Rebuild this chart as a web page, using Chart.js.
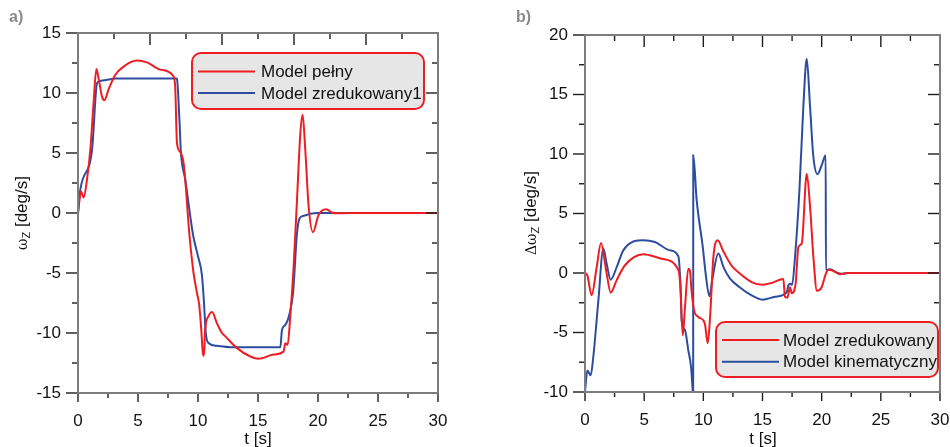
<!DOCTYPE html>
<html>
<head>
<meta charset="utf-8">
<script src="https://cdn.jsdelivr.net/npm/chart.js@4/dist/chart.umd.min.js"></script>
<style>
  html, body { margin: 0; padding: 0; background: #fff; }
  #wrap { position: relative; width: 950px; height: 447px; overflow: hidden; font-family: "Liberation Sans", Arial, sans-serif; }
  canvas { position: absolute; top: 0; }
  .panel { position: absolute; top: 8px; font-size: 16px; font-weight: bold; color: #8a8a8a; }
  .xtitle { position: absolute; top: 429px; width: 100px; text-align: center; font-size: 17px; color: #111; }
  .ytitle { position: absolute; top: 203px; width: 120px; height: 20px; line-height: 20px; text-align: center;
            font-size: 17px; color: #111; transform: rotate(-90deg); white-space: nowrap; }
  .ytitle .om { font-family: "DejaVu Serif", serif; font-size: 14px; }
  .ytitle sub { font-size: 11px; vertical-align: -3px; }
</style>
</head>
<body>
<div id="wrap">
  <canvas id="chartA" width="475" height="447" style="left:0"></canvas>
  <canvas id="chartB" width="475" height="447" style="left:475px"></canvas>
  <div class="panel" style="left:9px">a)</div>
  <div class="panel" style="left:516px">b)</div>
  <div class="xtitle" style="left:208px">t [s]</div>
  <div class="xtitle" style="left:713px">t [s]</div>
  <div class="ytitle" style="left:-38px"><span class="om">ω</span><sub>Z</sub> [deg/s]</div>
  <div class="ytitle" style="left:471px"><span class="om">Δω</span><sub>Z</sub> [deg/s]</div>
</div>
<script>
/* Two panels: yaw rate of the full vs reduced model (a) and model errors (b). */
const RED = "#ee1d24";
const BLUE = "#2c4d9f";
const FONT = '"Liberation Sans", Arial, sans-serif';

/* ---------- data: panel a ---------- */
const timeFull = [0, 0.25, 0.47, 0.75, 1.03, 1.3, 1.53, 1.72, 2.0, 2.2, 2.55, 3.1, 3.8, 4.9, 5.75, 6.86, 7.95,
  8.1, 8.25, 8.52, 8.8, 9.0, 9.2, 9.4, 9.63, 9.9, 10.1, 10.27, 10.38, 10.45, 10.52, 10.6, 10.88, 11.17, 11.58,
  12.0, 12.3, 13.25, 14.36, 15.05, 16.3, 17.13, 17.28, 17.47, 17.69, 17.97, 18.25, 18.53, 18.72, 18.94, 19.22,
  19.58, 20.05, 20.69, 21.17, 21.6, 22.5, 30];
const omegaFull = [0, 1.8, 1.3, 2.8, 5.3, 9.2, 12.0, 11.2, 9.7, 9.4, 10.3, 11.5, 12.2, 12.7, 12.55, 11.95, 11.4,
  10.5, 5.8, 5.1, 4.15, 2.0, -0.8, -3.0, -5.0, -6.6, -7.65, -9.7, -11.4, -11.9, -11.5, -9.7, -8.6, -8.26, -9.2,
  -10.0, -10.3, -11.26, -11.96, -12.15, -11.8, -11.54, -10.85, -10.98, -8.6, -4.46, 1.1, 6.66, 8.18, 5.27, 0.54,
  -1.6, -0.15, 0.32, 0.04, -0.03, 0, 0];

const timeReduced1 = [0, 0.19, 1.17, 1.58, 1.8, 2.7, 3.1, 8.2, 8.25, 8.45, 8.58, 8.94, 9.36, 9.6, 10.0, 10.33,
  10.5, 10.65, 10.9, 11.58, 12.7, 16.86, 17.0, 17.28, 17.64, 17.92, 18.25, 18.47, 18.8, 19.36, 20, 30];
const omegaReduced1 = [0, 1.93, 5.27, 10.8, 11.0, 11.15, 11.2, 11.2, 11.15, 7.8, 5.0, 2.77, -0.3, -1.9, -3.6, -5.2,
  -7.5, -10.0, -10.85, -11.07, -11.18, -11.18, -9.73, -9.32, -8.35, -6.68, -1.68, -0.43, -0.23, -0.07, 0, 0];

/* ---------- data: panel b ---------- */
const timeDeltaReduced = [0, 0.2, 0.56, 0.99, 1.35, 1.83, 2.17, 2.68, 3.38, 4.93, 6.48, 7.89, 8.05, 8.26, 8.45,
  8.73, 8.87, 9.0, 9.21, 9.58, 10.0, 10.14, 10.37, 10.57, 10.85, 11.21, 11.7, 12.4, 13.04, 14.08, 15.0, 15.77,
  16.76, 16.9, 17.1, 17.33, 17.47, 17.8, 18.03, 18.32, 18.74, 19.02, 19.3, 19.6, 20.0, 20.34, 20.56, 21.0, 21.55,
  22.1, 30];
const deltaReduced = [0, -0.2, -1.87, 0.5, 2.52, -0.05, -1.65, -0.6, 0.65, 1.57, 1.2, 0.25, -1.0, -5.24, -2.86,
  0.36, 0.2, -1.45, -3.1, -3.7, -3.97, -4.3, -5.9, -3.7, 1.35, 2.75, 1.8, 0.6, 0, -0.76, -0.98, -0.84,
  -0.5, -2.0, -2.07, -1.2, -1.7, -0.9, 2.18, 2.5, 8.35, 5.55, 1.35, -1.5, -1.2, -0.1, 0.28, 0.17, -0.1,
  0, 0];

const timeDeltaKin = [0, 0.2, 0.48, 0.7, 1.13, 1.55, 1.83, 2.17, 2.68, 3.24, 4.93, 5.9, 7.19, 7.89, 8.09, 8.17,
  8.45, 8.73, 8.96, 9.1, 9.14, 9.15, 9.44, 9.95, 10.23, 10.51, 10.79, 11.27, 11.7, 12.26, 13.04, 14.08, 15.0,
  16.06, 17.04, 17.19, 17.37, 17.5, 17.75, 18.12, 18.45, 18.74, 19.02, 19.3, 19.64, 20.0, 20.34, 20.36, 20.71,
  21.27, 21.7, 22.3, 30];
const deltaKin = [-10, -8.2, -8.6, -7.06, -2.3, 2.05, 0.78, -0.56, 0.5, 1.9, 2.75, 2.6, 1.9, 1.4, -1.45, -4.0,
  -4.8, -6.5, -7.9, -9.9, -10.6, 9.9, 6.1, 2.2, -0.34, -1.96, -0.34, 1.63, 0.5, -0.47, -1.17, -1.88, -2.24,
  -2.0, -1.62, -1.03, -0.9, -1.0, 1.35, 6.95, 13.95, 18.0, 13.95, 9.75, 8.3, 9.05, 9.9, 0.23, 0.31,
  0.03, -0.07, 0, 0];

/* ---------- tick labels ---------- */
const timeTicks = [0, 5, 10, 15, 20, 25, 30];
const omegaTicks = [-15, -10, -5, 0, 5, 10, 15];
const deltaTicks = [-10, -5, 0, 5, 10, 15, 20];

const pts = (ts, ys) => ts.map((t, i) => ({ x: t, y: ys[i] }));

/* ---------- plugins ---------- */
// tick marks on all four sides + grey frame
const frameTicks = {
  id: "frameTicks",
  afterDraw(chart, _args, o) {
    const { ctx, chartArea: a, scales: { x, y } } = chart;
    const mark = (x1, y1, x2, y2) => { ctx.beginPath(); ctx.moveTo(x1, y1); ctx.lineTo(x2, y2); ctx.stroke(); };
    const isMul = (v, s) => Math.abs(v / s - Math.round(v / s)) < 1e-6;
    ctx.save();
    ctx.strokeStyle = "#1c1c1c";
    ctx.lineWidth = 1.4;
    for (let v = y.min; v <= y.max + 1e-9; v += o.yStep / 2) {
      const p = y.getPixelForValue(v), big = isMul(v, o.yStep);
      mark(a.left - (big ? 12 : 6), p, a.left, p);
      mark(a.right - (big ? 12 : 6), p, a.right, p);
    }
    for (let v = x.min; v <= x.max + 1e-9; v += o.xStep / 2) {
      const p = x.getPixelForValue(v), big = isMul(v, o.xStep);
      mark(p, a.bottom, p, a.bottom + (big ? 9 : 5));
    }
    for (let v = x.min; v <= x.max + 1e-9; v += o.topStep) {
      const p = x.getPixelForValue(v), big = isMul(v, o.topStep * 2);
      mark(p, a.top, p, a.top + (big ? 12 : 6));
    }
    ctx.strokeStyle = "#7d7d7d";
    ctx.lineWidth = 2;
    ctx.strokeRect(a.left, a.top, a.right - a.left, a.bottom - a.top);
    ctx.restore();
  },
};

// rounded grey legend box with red border
const boxLegend = {
  id: "boxLegend",
  afterDraw(chart, _args, o) {
    const { ctx } = chart;
    const r = 9, { x, y, w, h } = o;
    ctx.save();
    ctx.beginPath();
    ctx.moveTo(x + r, y);
    ctx.arcTo(x + w, y, x + w, y + h, r);
    ctx.arcTo(x + w, y + h, x, y + h, r);
    ctx.arcTo(x, y + h, x, y, r);
    ctx.arcTo(x, y, x + w, y, r);
    ctx.closePath();
    ctx.fillStyle = "#e6e6e6";
    ctx.fill();
    ctx.strokeStyle = RED;
    ctx.lineWidth = 2;
    ctx.stroke();
    ctx.font = "17px " + FONT;
    ctx.textBaseline = "middle";
    chart.data.datasets.forEach((ds, i) => {
      const ly = y + o.first + i * o.gap;
      ctx.strokeStyle = ds.borderColor;
      ctx.lineWidth = 2;
      ctx.beginPath(); ctx.moveTo(x + 6, ly); ctx.lineTo(x + 63, ly); ctx.stroke();
      ctx.fillStyle = "#111";
      ctx.fillText(ds.label, x + o.textDx, ly + 1);
    });
    ctx.restore();
  },
};

/* ---------- chart factory ---------- */
function makeChart(id, sets, yTicks, box) {
  const tickFont = { family: FONT, size: 17 };
  return new Chart(document.getElementById(id), {
    type: "line",
    data: {
      datasets: sets.map((s) => ({
        label: s.label, data: s.data, borderColor: s.color, borderWidth: 2,
        pointRadius: 0, fill: false, cubicInterpolationMode: "monotone",
      })),
    },
    options: {
      responsive: false,
      animation: false,
      layout: { padding: { top: box.top, right: box.right, left: 0, bottom: 0 } },
      scales: {
        x: {
          type: "linear", min: timeTicks[0], max: timeTicks[timeTicks.length - 1],
          afterBuildTicks: (s) => { s.ticks = timeTicks.map((v) => ({ value: v })); },
          afterFit: (s) => { s.height = box.bottomH; s.paddingLeft = 0; s.paddingRight = 0; },
          grid: { display: false, drawTicks: false }, border: { display: false },
          ticks: { font: tickFont, color: "#111", padding: 18, maxRotation: 0, autoSkip: false },
        },
        y: {
          type: "linear", min: yTicks[0], max: yTicks[yTicks.length - 1],
          afterBuildTicks: (s) => { s.ticks = yTicks.map((v) => ({ value: v })); },
          afterFit: (s) => { s.width = box.leftW; s.paddingTop = 0; s.paddingBottom = 0; },
          grid: { display: false, drawTicks: false }, border: { display: false },
          ticks: { font: tickFont, color: "#111", padding: 17, autoSkip: false },
        },
      },
      plugins: {
        legend: { display: false },
        tooltip: { enabled: false },
        frameTicks: box.ticks,
        boxLegend: box.legend,
      },
    },
    plugins: [frameTicks, boxLegend],
  });
}

makeChart("chartA", [
  { label: "Model pełny", data: pts(timeFull, omegaFull), color: RED },
  { label: "Model zredukowany1", data: pts(timeReduced1, omegaReduced1), color: BLUE },
], omegaTicks, {
  top: 33, right: 37, leftW: 78, bottomH: 54,
  ticks: { xStep: 5, yStep: 5, topStep: 3 },
  legend: { x: 192, y: 53, w: 232, h: 56, first: 18.5, gap: 21.6, textDx: 69 },
});

makeChart("chartB", [
  { label: "Model zredukowany", data: pts(timeDeltaReduced, deltaReduced), color: RED },
  { label: "Model kinematyczny", data: pts(timeDeltaKin, deltaKin), color: BLUE },
], deltaTicks, {
  top: 35, right: 10, leftW: 110, bottomH: 55,
  ticks: { xStep: 5, yStep: 5, topStep: 2.5 },
  legend: { x: 241, y: 322, w: 222, h: 55, first: 18, gap: 21.7, textDx: 67 },
});
</script>
</body>
</html>
